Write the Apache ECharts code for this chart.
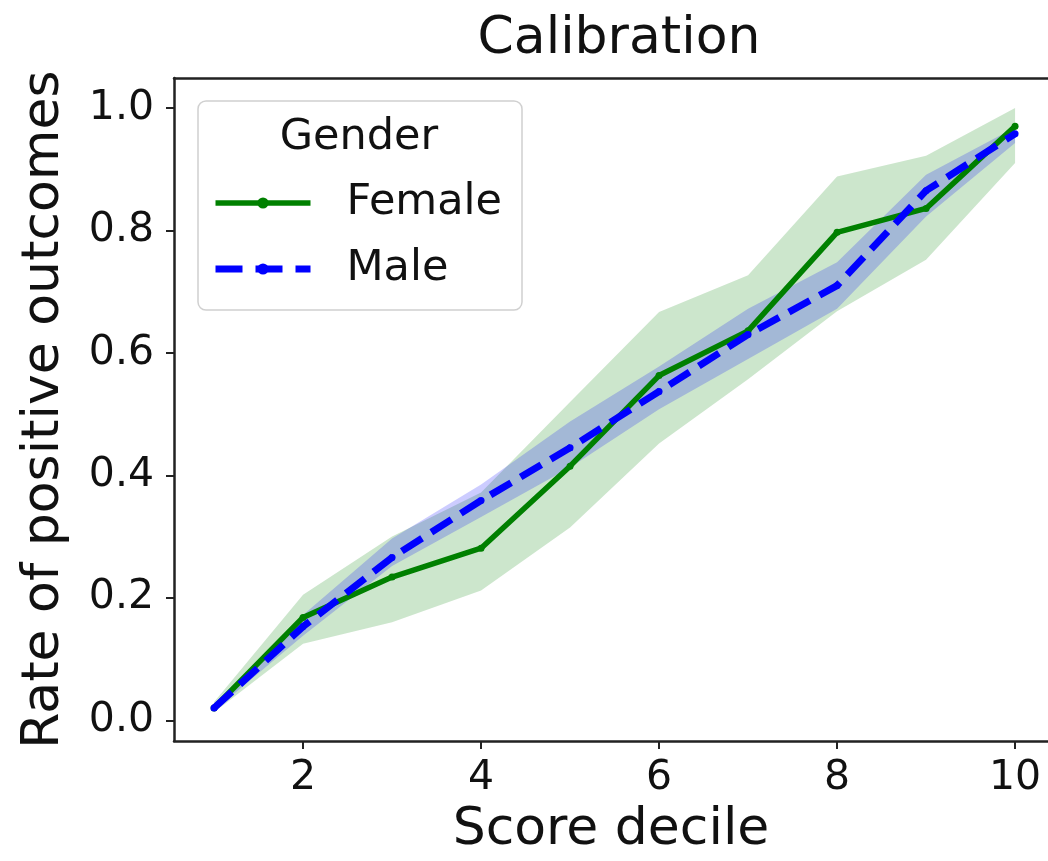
<!DOCTYPE html>
<html>
<head>
<meta charset="utf-8">
<script src="https://cdn.jsdelivr.net/npm/echarts@6/dist/echarts.min.js"></script>
<style>
html,body{margin:0;padding:0;background:#fff;}
#chart{width:1048px;height:861px;}
</style>
</head>
<body>
<div id="chart"></div>
<script>
// ---- data ----
var deciles = [1, 2, 3, 4, 5, 6, 7, 8, 9, 10];
var femaleRate = [0.020, 0.168, 0.234, 0.281, 0.415, 0.563, 0.636, 0.797, 0.836, 0.970];
var maleRate   = [0.020, 0.153, 0.266, 0.359, 0.445, 0.537, 0.630, 0.710, 0.865, 0.958];
var femaleLow  = [0.013, 0.125, 0.160, 0.212, 0.315, 0.452, 0.557, 0.668, 0.752, 0.910];
var femaleHigh = [0.030, 0.205, 0.300, 0.372, 0.520, 0.667, 0.727, 0.888, 0.922, 1.000];
var maleLow    = [0.016, 0.138, 0.252, 0.332, 0.413, 0.508, 0.590, 0.672, 0.823, 0.943];
var maleHigh   = [0.025, 0.172, 0.297, 0.385, 0.488, 0.578, 0.672, 0.748, 0.891, 0.968];
var xTicks = [2, 4, 6, 8, 10];
var yTicks = [0.0, 0.2, 0.4, 0.6, 0.8, 1.0];
var seriesNames = ['Female', 'Male'];
var legendTitle = 'Gender';
var chartTitle = 'Calibration';
var xName = 'Score decile';
var yName = 'Rate of positive outcomes';

var FONT = 'DejaVu Sans';
var GREEN = '#008000';
var BLUE = '#0000ff';
var AXIS = '#222';

function pairs(xs, ys) { return xs.map(function (x, i) { return [x, ys[i]]; }); }
function bandData(xs, lo, hi) { return xs.map(function (x, i) { return [x, lo[i], hi[i]]; }); }

function bandSeries(lo, hi, color) {
  return {
    type: 'custom',
    silent: true,
    z: 1,
    data: bandData(deciles, lo, hi),
    encode: { x: 0, y: [1, 2] },
    renderItem: function (params, api) {
      if (params.dataIndex !== 0) return null;
      var pts = [];
      for (var i = 0; i < deciles.length; i++) pts.push(api.coord([deciles[i], hi[i]]));
      for (var j = deciles.length - 1; j >= 0; j--) pts.push(api.coord([deciles[j], lo[j]]));
      return { type: 'polygon', shape: { points: pts }, style: { fill: color, opacity: 0.2 } };
    }
  };
}

var X_MIN = 0.55, X_MAX = 10.37;   // right spine lies just beyond the picture edge
var Y_MIN = -0.034, Y_MAX = 1.049;

var chart = echarts.init(document.getElementById('chart'), null, { renderer: 'canvas' });
chart.setOption({
  animation: false,
  backgroundColor: '#ffffff',
  textStyle: { fontFamily: FONT },
  title: {
    text: chartTitle,
    left: 614, top: 8, textAlign: 'center',
    textStyle: { fontFamily: FONT, fontSize: 52, fontWeight: 'normal', color: '#111' }
  },
  grid: { left: 174, top: 78, right: 0, bottom: 116, containLabel: false },
  xAxis: [{
    type: 'value', min: X_MIN, max: X_MAX,
    name: xName, nameLocation: 'middle', nameGap: 60,
    nameTextStyle: { fontFamily: FONT, fontSize: 52, color: '#111' },
    axisLine: { show: true, onZero: false, lineStyle: { color: AXIS, width: 2.5 } },
    axisTick: { show: true, length: 8, customValues: xTicks, lineStyle: { color: AXIS, width: 2 } },
    axisLabel: { customValues: xTicks, margin: 17, fontFamily: FONT, fontSize: 41, color: '#111' },
    splitLine: { show: false }
  }, {
    type: 'value', position: 'top', min: X_MIN, max: X_MAX,
    axisLine: { show: true, onZero: false, lineStyle: { color: AXIS, width: 2.5 } },
    axisTick: { show: false }, axisLabel: { show: false }, splitLine: { show: false }
  }],
  yAxis: {
    type: 'value', min: Y_MIN, max: Y_MAX,
    name: yName, nameLocation: 'middle', nameGap: 104,
    nameTextStyle: { fontFamily: FONT, fontSize: 52, color: '#111' },
    axisLine: { show: true, onZero: false, lineStyle: { color: AXIS, width: 2.5 } },
    axisTick: { show: true, length: 8, customValues: yTicks, lineStyle: { color: AXIS, width: 2 } },
    axisLabel: { customValues: yTicks, margin: 20, fontFamily: FONT, fontSize: 41, color: '#111',
      formatter: function (v) { return Number(v).toFixed(1); } },
    splitLine: { show: false }
  },
  legend: {
    z: 200,
    orient: 'vertical',
    left: 212, top: 178,
    padding: 0,
    itemWidth: 95, itemHeight: 14, itemGap: 16,
    data: [
      { name: seriesNames[0], lineStyle: { width: 5.5, color: GREEN } },
      { name: seriesNames[1], lineStyle: { width: 7, color: BLUE, type: [27, 13] } }
    ],
    textStyle: { fontFamily: FONT, fontSize: 43, color: '#111', lineHeight: 50, padding: [0, 0, 0, 31] },
    selectedMode: false
  },
  graphic: [
    { type: 'rect', z: 100, shape: { x: 198, y: 101, width: 324, height: 209, r: 8 },
      style: { fill: 'rgba(255,255,255,0.8)', stroke: '#d0d0d0', lineWidth: 1.5 } },
    { type: 'text', z: 101, x: 359, y: 138,
      style: { text: legendTitle, fontFamily: FONT, fontSize: 43, fill: '#111', textAlign: 'center', textVerticalAlign: 'middle' } }
  ],
  series: [
    bandSeries(femaleLow, femaleHigh, GREEN),
    bandSeries(maleLow, maleHigh, BLUE),
    {
      name: seriesNames[0], type: 'line', z: 3,
      data: pairs(deciles, femaleRate),
      symbol: 'circle', symbolSize: 7, showSymbol: true,
      itemStyle: { color: GREEN },
      lineStyle: { color: GREEN, width: 5.5 }
    },
    {
      name: seriesNames[1], type: 'line', z: 4,
      data: pairs(deciles, maleRate),
      symbol: 'circle', symbolSize: 7, showSymbol: true,
      itemStyle: { color: BLUE },
      lineStyle: { color: BLUE, width: 7, type: [24, 11], cap: 'butt' }
    }
  ]
});
</script>
</body>
</html>
